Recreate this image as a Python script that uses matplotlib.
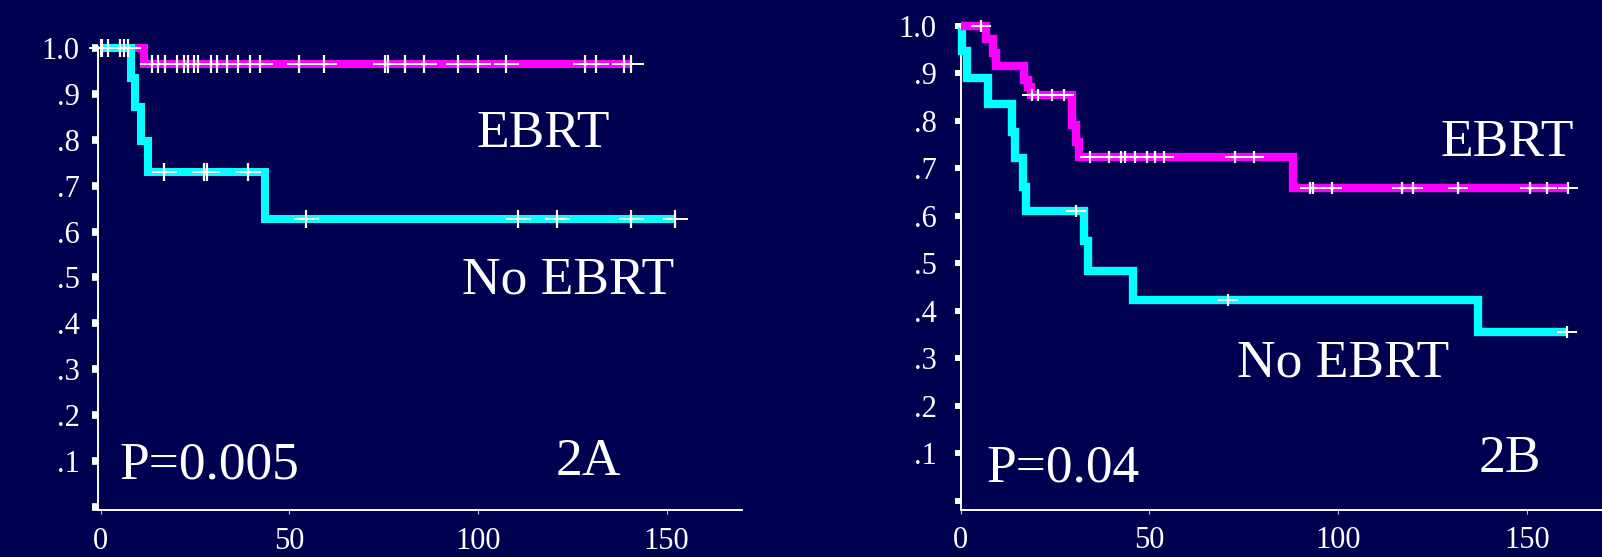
import numpy as np
import matplotlib.pyplot as plt

plt.rcParams['font.family'] = ['Liberation Serif', 'DejaVu Serif']

# ---- panel 2A (months vs. survival) ----
a_ebrt_times = [11.45]
a_ebrt_surv = [1.0, 0.965]
a_ebrt_end = 140.5
a_ebrt_cens = [0.0, 2.0, 6.1, 13.7, 15.2, 17.0, 20.2, 22.0, 23.2, 24.7, 25.8, 29.2, 30.9,
               33.6, 36.4, 39.6, 42.2, 52.6, 59.2, 75.4, 76.1, 80.7, 85.8, 94.6, 100.1,
               107.3, 128.4, 131.3, 138.8, 140.5]

a_no_times = [8.1, 9.1, 10.8, 12.5, 43.5]
a_no_surv = [1.0, 0.935, 0.871, 0.798, 0.731, 0.628]
a_no_end = 152.2
a_no_cens = [0.3, 5.2, 7.3, 16.8, 27.4, 28.3, 39.1, 54.4, 110.6, 121.0, 140.5, 152.2]

# ---- panel 2B ----
b_ebrt_times = [6.7, 8.6, 9.4, 16.8, 17.9, 18.7, 29.5, 30.6, 31.4, 88.1]
b_ebrt_surv = [1.0, 0.972, 0.942, 0.915, 0.886, 0.871, 0.855, 0.791, 0.756, 0.723, 0.658]
b_ebrt_end = 160.9
b_ebrt_cens = [5.3, 19.0, 20.4, 24.1, 27.4, 34.3, 39.4, 42.5, 43.7, 46.3, 49.4, 51.5, 54.0,
               72.7, 77.7, 92.6, 93.5, 98.5, 116.9, 120.0, 131.9, 150.9, 155.3, 160.9]

b_no_times = [0.4, 1.7, 7.3, 13.5, 14.3, 16.6, 17.4, 32.6, 33.7, 45.6, 137.1]
b_no_surv = [1.0, 0.947, 0.889, 0.835, 0.777, 0.721, 0.661, 0.609, 0.547, 0.484, 0.423, 0.356]
b_no_end = 160.6
b_no_cens = [30.6, 70.9, 160.6]

y_ticks = [0, .1, .2, .3, .4, .5, .6, .7, .8, .9, 1.0]
y_labels = ['', '.1', '.2', '.3', '.4', '.5', '.6', '.7', '.8', '.9', '1.0']
x_ticks = [0, 50, 100, 150]

bg = '#000050'
magenta = '#ff00ff'
cyan = '#00ffff'


def km_curve(ax, times, surv, end, cens, color, lw, vsize, hsize, z):
    x = [0] + list(times) + [end]
    y = list(surv) + [surv[-1]]
    ax.step(x, y, where='post', color=color, lw=lw, zorder=z, clip_on=False,
            solid_joinstyle='miter', solid_capstyle='butt')
    idx = np.searchsorted(times, cens, side='right')
    cy = np.array(surv)[idx]
    ax.plot(cens, cy, ls='none', marker='_', ms=hsize, mew=1.4, color='white',
            zorder=5, clip_on=False)
    ax.plot(cens, cy, ls='none', marker='|', ms=vsize, mew=1.6, color='white',
            zorder=5, clip_on=False)


def style_axes(ax, xlim, ylim, ytick_w, ypad):
    ax.set_facecolor(bg)
    ax.set_xlim(*xlim)
    ax.set_ylim(*ylim)
    for s in ['top', 'right']:
        ax.spines[s].set_visible(False)
    for s in ['left', 'bottom']:
        ax.spines[s].set_color('white')
        ax.spines[s].set_linewidth(1.4)
    ax.set_yticks(y_ticks)
    ax.set_yticklabels(y_labels)
    ax.set_xticks(x_ticks)
    ax.set_xticklabels([str(t) for t in x_ticks])
    ax.tick_params(axis='y', direction='out', length=4.3, width=ytick_w, color='white',
                   labelcolor='white', labelsize=22, pad=ypad)
    ax.tick_params(axis='x', direction='out', length=3, width=0.8, color='#ccccdd',
                   labelcolor='white', labelsize=22, pad=9)


fig = plt.figure(figsize=(16.02, 5.57), dpi=100, facecolor=bg)
ax1 = fig.add_axes([0.0612, 0.0835, 0.4018, 0.8314])
ax2 = fig.add_axes([0.5996, 0.0851, 0.4004, 0.8688])

style_axes(ax1, (-0.7, 169.9), (-0.0087, 1.002), 5.5, 9)
style_axes(ax2, (0, 169.95), (-0.0185, 1.0), 4.3, 13)

# 2A: cyan drawn over magenta
km_curve(ax1, a_ebrt_times, a_ebrt_surv, a_ebrt_end, a_ebrt_cens, magenta, 5.8, 13, 18, 3)
km_curve(ax1, a_no_times, a_no_surv, a_no_end, a_no_cens, cyan, 5.8, 13, 18, 4)

# 2B: magenta drawn over cyan
km_curve(ax2, b_no_times, b_no_surv, b_no_end, b_no_cens, cyan, 6.0, 9, 14.5, 3)
km_curve(ax2, b_ebrt_times, b_ebrt_surv, b_ebrt_end, b_ebrt_cens, magenta, 6.0, 9, 14.5, 4)

fs = 38.5
ax1.text(99.7, 0.785, 'EBRT', color='white', fontsize=fs, va='baseline')
ax1.text(95.7, 0.465, 'No EBRT', color='white', fontsize=fs, va='baseline')
ax1.text(5.1, 0.062, 'P=0.005', color='white', fontsize=fs, va='baseline')
ax1.text(120.7, 0.069, '2A', color='white', fontsize=fs, va='baseline')

ax2.text(127.2, 0.726, 'EBRT', color='white', fontsize=fs, va='baseline')
ax2.text(73.2, 0.261, 'No EBRT', color='white', fontsize=fs, va='baseline')
ax2.text(6.9, 0.040, 'P=0.04', color='white', fontsize=fs, va='baseline')
ax2.text(137.3, 0.060, '2B', color='white', fontsize=fs, va='baseline')

plt.savefig('out.png', dpi=100, facecolor=bg)
